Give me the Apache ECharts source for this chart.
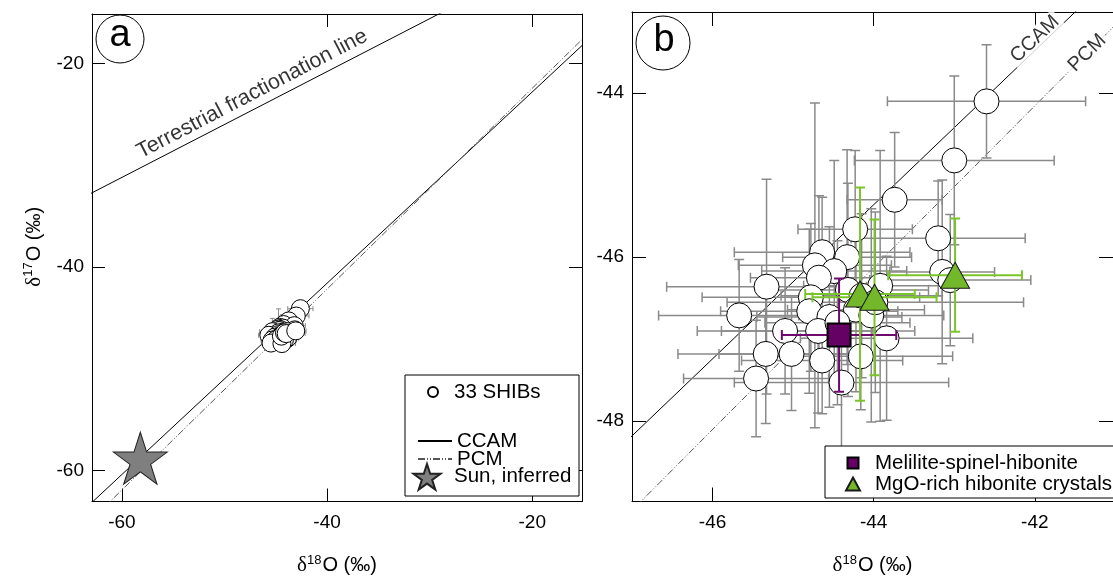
<!DOCTYPE html>
<html>
<head>
<meta charset="utf-8">
<script src="https://cdn.jsdelivr.net/npm/echarts@6/dist/echarts.min.js"></script>
<style>
  html, body { margin: 0; padding: 0; background: #fff; overflow: hidden; }
  #chart { width: 1113px; height: 581px; }
</style>
</head>
<body>
<div id="chart"></div>
<script>
// 33 SHIBs: d18O, d17O and their 2-sigma errors (permil)
const shibD18O = [-42.60, -43.00, -43.74, -44.23, -43.20, -44.64, -44.33, -44.73, -44.49, -44.68, -43.15,
  -45.33, -44.32, -43.92, -44.78, -45.67, -44.80, -44.55, -44.22, -44.03, -45.10, -44.69,
  -43.84, -45.34, -45.02, -44.64, -44.16, -45.46, -44.40, -44.45, -44.15, -43.98, -43.05];
const shibD17O = [-44.10, -44.82, -45.30, -45.66, -45.77, -45.94, -46.00, -46.10, -46.17, -46.25, -46.18,
  -46.36, -46.40, -46.35, -46.49, -46.71, -46.66, -46.73, -46.64, -46.71, -46.90, -46.90,
  -46.99, -47.18, -47.18, -47.26, -47.21, -47.48, -47.53, -46.80, -46.47, -46.55, -46.28];
const shibErr18 = [1.23, 1.24, 0.59, 0.71, 1.08, 1.09, 0.80, 0.95, 0.90, 0.85, 0.65,
  1.24, 1.00, 0.95, 1.35, 1.00, 1.10, 0.90, 0.85, 0.90, 1.09, 1.20,
  1.07, 1.09, 0.90, 1.00, 1.14, 0.90, 1.33, 0.90, 1.00, 1.84, 1.00];
const shibErr17 = [0.69, 1.03, 0.82, 0.96, 0.70, 0.67, 1.31, 1.98, 1.35, 1.00, 1.12,
  1.31, 1.30, 1.65, 0.90, 0.68, 1.00, 1.10, 1.00, 1.30, 0.77, 1.00,
  1.00, 0.85, 0.69, 0.65, 0.65, 0.71, 0.80, 1.00, 1.00, 1.10, 0.80];

const meliliteD18O = [-44.43];
const meliliteD17O = [-46.95];
const meliliteErr18 = [0.71];
const meliliteErr17 = [0.69];

const mgoD18O = [-44.17, -43.99, -42.99];
const mgoD17O = [-46.45, -46.49, -46.22];
const mgoErr18 = [0.68, 0.77, 0.83];
const mgoErr17 = [1.30, 0.95, 0.69];

const sunD18O = [-58.2];
const sunD17O = [-58.8];

// reference lines d17O = slope * d18O + intercept
const lineNames = ['Terrestrial fractionation line', 'CCAM', 'PCM'];
const lineSlopes = [0.52, 0.94, 0.987];
const lineIntercepts = [0, -4.0, -2.70];

const ticksA = [-60, -40, -20];
const ticksBx = [-46, -44, -42];
const ticksBy = [-48, -46, -44];

const FONT = '"Liberation Sans", Arial, sans-serif';
const rangeA = { x: [-62.91, -15.15], y: [-63.05, -15.14] };
const rangeB = { x: [-47.0, -41.03], y: [-48.98, -43.01] };

const nameRich = {
  d: { fontFamily: '"Liberation Serif", serif', fontSize: 21, color: '#000' },
  m: { fontFamily: FONT, fontSize: 20, color: '#000' },
  s: { fontFamily: FONT, fontSize: 13, color: '#000', padding: [0, 1, 11, 0] }
};

function makeAxis(gridIndex, position, range, ticks, showLabel, tickLen, margin) {
  return {
    type: 'value', gridIndex, position,
    min: range[0], max: range[1],
    axisLine: { show: true, onZero: false, lineStyle: { color: '#000', width: 1 } },
    axisTick: { show: true, inside: true, length: tickLen, customValues: ticks, lineStyle: { color: '#000', width: 1 } },
    axisLabel: { show: showLabel, customValues: ticks, color: '#000', fontFamily: FONT, fontSize: 19, margin },
    splitLine: { show: false }
  };
}

const xAxes = [
  makeAxis(0, 'bottom', rangeA.x, ticksA, true, 13, 12),
  makeAxis(0, 'top', rangeA.x, ticksA, false, 13, 8),
  makeAxis(1, 'bottom', rangeB.x, ticksBx, true, 14, 12),
  makeAxis(1, 'top', rangeB.x, ticksBx, false, 14, 8)
];
const yAxes = [
  makeAxis(0, 'left', rangeA.y, ticksA, true, 13, 8),
  makeAxis(0, 'right', rangeA.y, ticksA, false, 13, 8),
  makeAxis(1, 'left', rangeB.y, ticksBy, true, 14, 8),
  makeAxis(1, 'right', rangeB.y, ticksBy, false, 14, 8)
];
Object.assign(xAxes[0], { name: '{d|δ}{s|18}{m|O (‰)}', nameLocation: 'middle', nameGap: 52, nameTextStyle: { rich: nameRich } });
Object.assign(xAxes[2], { name: '{d|δ}{s|18}{m|O (‰)}', nameLocation: 'middle', nameGap: 52, nameTextStyle: { rich: nameRich } });
Object.assign(yAxes[0], { name: '{d|δ}{s|17}{m|O (‰)}', nameLocation: 'middle', nameGap: 46, nameTextStyle: { rich: nameRich, padding: [0, 0, 0, 22] } });

// straight reference line across an axis range
function refLine(idx, axisIdx, range, style) {
  const xs = [range[0] - 1, range[1] + 1];
  return {
    type: 'line', name: lineNames[idx],
    xAxisIndex: axisIdx, yAxisIndex: axisIdx,
    data: xs.map(x => [x, lineSlopes[idx] * x + lineIntercepts[idx]]),
    symbol: 'none', lineStyle: style, itemStyle: { color: 'rgba(0,0,0,0)' },
    z: 1, silent: true, clip: true
  };
}

function errorBars(xs, ys, ex, ey, color, width, cap, axisIdx, z) {
  return {
    type: 'custom', xAxisIndex: axisIdx, yAxisIndex: axisIdx, z, silent: true, clip: true,
    data: xs.map((x, i) => [x, ys[i], ex[i], ey[i]]),
    encode: { x: 0, y: 1 },
    renderItem(params, api) {
      const x = api.value(0), y = api.value(1), dx = api.value(2), dy = api.value(3);
      const L = api.coord([x - dx, y]), R = api.coord([x + dx, y]);
      const T = api.coord([x, y + dy]), B = api.coord([x, y - dy]);
      const style = { stroke: color, lineWidth: width };
      const seg = (x1, y1, x2, y2) => ({ type: 'line', shape: { x1, y1, x2, y2 }, style });
      return {
        type: 'group',
        children: [
          seg(L[0], L[1], R[0], R[1]), seg(T[0], T[1], B[0], B[1]),
          seg(L[0], L[1] - cap, L[0], L[1] + cap), seg(R[0], R[1] - cap, R[0], R[1] + cap),
          seg(T[0] - cap, T[1], T[0] + cap, T[1]), seg(B[0] - cap, B[1], B[0] + cap, B[1])
        ]
      };
    }
  };
}

function pairs(xs, ys) {
  return xs.map((x, i) => [x, ys[i]]);
}

function lineLabel(axisIdx, at, text, rotate, size, bg) {
  return {
    type: 'scatter', xAxisIndex: axisIdx, yAxisIndex: axisIdx, silent: true, z: 6,
    data: [at], symbolSize: 1, itemStyle: { color: 'rgba(0,0,0,0)' },
    label: {
      show: true, position: 'inside', rotate, formatter: text,
      fontFamily: FONT, fontSize: size, color: '#000',
      backgroundColor: bg || 'transparent', padding: [0, 3, 0, 3]
    }
  };
}

// one legend row: icon centred at cx, text starting near textX
function legendRow(name, cx, top, w, h, textX, icon) {
  const left = cx - w / 2;
  const row = {
    data: [name], left, top, itemWidth: w, itemHeight: h, selectedMode: false, z: 20,
    textStyle: { fontFamily: FONT, fontSize: 20.5, color: '#000', lineHeight: 22, padding: [0, 0, 0, Math.max(0, textX - (left + w + 11))] }
  };
  if (icon) row.icon = icon;
  return row;
}

const STAR = 'path://M50,0L61.2,34.5L97.6,34.5L68.2,55.9L79.4,90.5L50,69.1L20.6,90.5L31.8,55.9L2.4,34.5L38.8,34.5Z';
const solid = { color: '#000', width: 1 };
const dashDot = { color: '#555', width: 1, type: [7, 2, 1, 2, 1, 2] };

const option = {
  animation: false,
  grid: [
    { left: 92, top: 14, width: 490, height: 489 },
    { left: 632, top: 12, width: 490, height: 491 }
  ],
  xAxis: xAxes,
  yAxis: yAxes,
  legend: [
    legendRow('33 SHIBs', 427, 376, 10, 10, 454, 'circle'),
    legendRow('CCAM', 429, 425, 34, 14, 454),
    legendRow('PCM', 429, 443, 34, 14, 454),
    legendRow('Sun, inferred', 421, 458, 27, 27, 454, STAR),
    legendRow('Melilite-spinel-hibonite', 847, 447, 11, 11, 875, 'rect'),
    legendRow('MgO-rich hibonite crystals', 847, 468, 14, 13, 875, 'triangle')
  ],
  graphic: [
    { type: 'rect', shape: { x: 405, y: 375, width: 174, height: 121 }, style: { fill: '#fff', stroke: '#000', lineWidth: 1 }, z: 15 },
    { type: 'rect', shape: { x: 825, y: 446, width: 320, height: 52 }, style: { fill: '#fff', stroke: '#000', lineWidth: 1 }, z: 15 },
    { type: 'circle', shape: { cx: 120, cy: 39, r: 24 }, style: { fill: '#fff', stroke: '#000', lineWidth: 1 }, z: 15 },
    { type: 'text', x: 120, y: 36, style: { text: 'a', fontFamily: FONT, fontSize: 38, fill: '#000', align: 'center', verticalAlign: 'middle' }, z: 16 },
    { type: 'circle', shape: { cx: 663, cy: 43, r: 27 }, style: { fill: '#fff', stroke: '#000', lineWidth: 1 }, z: 15 },
    { type: 'text', x: 664, y: 41, style: { text: 'b', fontFamily: FONT, fontSize: 38, fill: '#000', align: 'center', verticalAlign: 'middle' }, z: 16 }
  ],
  series: [
    // panel a
    refLine(0, 0, rangeA.x, solid),
    refLine(1, 0, rangeA.x, solid),
    refLine(2, 0, rangeA.x, dashDot),
    errorBars(shibD18O, shibD17O, shibErr18, shibErr17, '#8a8a8a', 1, 2.5, 0, 2),
    {
      type: 'scatter', name: '33 SHIBs', xAxisIndex: 0, yAxisIndex: 0, z: 3,
      data: pairs(shibD18O, shibD17O), symbol: 'circle', symbolSize: 18,
      itemStyle: { color: '#fff', borderColor: '#000', borderWidth: 1, opacity: 1 }
    },
    {
      type: 'scatter', name: 'Sun, inferred', xAxisIndex: 0, yAxisIndex: 0, z: 5,
      data: pairs(sunD18O, sunD17O), symbol: STAR, symbolSize: [54, 52],
      itemStyle: { color: '#7f7f7f', borderColor: '#222', borderWidth: 1, opacity: 1 }
    },
    lineLabel(0, [-47.3, -23.0], 'Terrestrial fractionation line', 27.5, 21.5),

    // panel b
    refLine(1, 2, rangeB.x, solid),
    refLine(2, 2, rangeB.x, dashDot),
    errorBars(shibD18O, shibD17O, shibErr18, shibErr17, '#8a8a8a', 1.5, 5, 2, 2),
    {
      type: 'scatter', name: '33 SHIBs', xAxisIndex: 2, yAxisIndex: 2, z: 3,
      data: pairs(shibD18O, shibD17O), symbol: 'circle', symbolSize: 25,
      itemStyle: { color: '#fff', borderColor: '#000', borderWidth: 1, opacity: 1 }
    },
    errorBars(meliliteD18O, meliliteD17O, meliliteErr18, meliliteErr17, '#6e0a6e', 2, 5, 2, 4),
    errorBars(mgoD18O, mgoD17O, mgoErr18, mgoErr17, '#7cc42c', 2, 5, 2, 4),
    {
      type: 'scatter', name: 'Melilite-spinel-hibonite', xAxisIndex: 2, yAxisIndex: 2, z: 5,
      data: pairs(meliliteD18O, meliliteD17O), symbol: 'rect', symbolSize: 23,
      itemStyle: { color: '#650065', borderColor: '#000', borderWidth: 2, opacity: 1 }
    },
    {
      type: 'scatter', name: 'MgO-rich hibonite crystals', xAxisIndex: 2, yAxisIndex: 2, z: 5,
      data: pairs(mgoD18O, mgoD17O), symbol: 'triangle', symbolSize: [29, 26],
      itemStyle: { color: '#73b72a', borderColor: '#1a1a1a', borderWidth: 1, opacity: 1 }
    },
    lineLabel(2, [-42.0, -43.34], 'CCAM', 43.3, 20, '#fff'),
    lineLabel(2, [-41.35, -43.51], 'PCM', 44.7, 20, '#fff')
  ]
};

const chart = echarts.init(document.getElementById('chart'));
chart.setOption(option);
</script>
</body>
</html>
